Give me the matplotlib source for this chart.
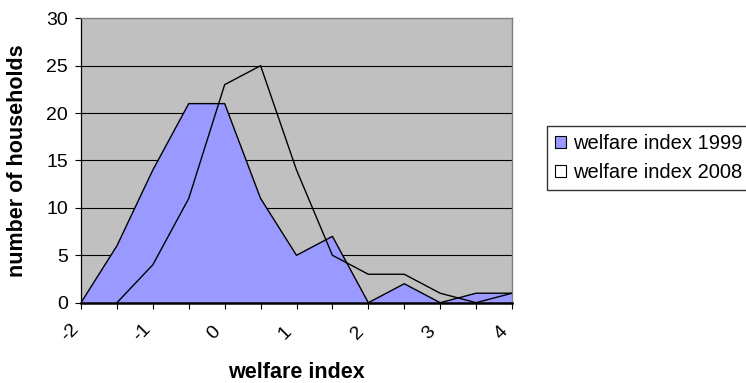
import numpy as np
import matplotlib
matplotlib.use("Agg")
import matplotlib.pyplot as plt
from matplotlib.patches import Patch
from matplotlib.transforms import ScaledTranslation

plt.rcParams['font.family'] = ['Liberation Sans', 'DejaVu Sans']

# Household counts per welfare index class
welfare_index = [-2, -1.5, -1, -0.5, 0, 0.5, 1, 1.5, 2, 2.5, 3, 3.5, 4]
households_1999 = [0, 6, 14, 21, 21, 11, 5, 7, 0, 2, 0, 1, 1]
households_2008 = [np.nan, 0, 4, 11, 23, 25, 14, 5, 3, 3, 1, 0, 1]
x_tick_labels = ['-2', '', '-1', '', '0', '', '1', '', '2', '', '3', '', '4']
y_ticks = [0, 5, 10, 15, 20, 25, 30]
series_names = ['welfare index 1999', 'welfare index 2008']

W, H = 746, 383
fig = plt.figure(figsize=(W / 100, H / 100), dpi=100)
ax = fig.add_axes([81 / W, 1 - 302.7 / H, (512 - 81) / W, (302.7 - 18.3) / H])
ax.set_facecolor('#C0C0C0')

x = np.array(welfare_index, dtype=float)
y99 = np.array(households_1999, dtype=float)
y08 = np.array(households_2008, dtype=float)

# horizontal gridlines behind the areas
for v in y_ticks[1:-1]:
    ax.axhline(v, color='black', lw=0.8, zorder=1)

ax.fill_between(x, 0, y99, facecolor='#9999FF', edgecolor='none', zorder=2)
ax.plot(x, y99, color='black', lw=1.0, zorder=3)
ax.plot(x, y08, color='black', lw=1.0, zorder=4)

ax.set_xlim(-2, 4)
ax.set_ylim(0, 30)
ax.set_xticks(welfare_index)
ax.set_xticklabels(x_tick_labels)
ax.set_yticks(y_ticks)

for side in ('top', 'right'):
    ax.spines[side].set_color('#808080')
    ax.spines[side].set_linewidth(1.0)
ax.spines['left'].set_color('black')
ax.spines['left'].set_linewidth(0.9)
ax.spines['bottom'].set_color('black')
ax.spines['bottom'].set_linewidth(1.8)
ax.spines['bottom'].set_zorder(5)

ax.tick_params(axis='y', direction='out', length=4.5, width=0.8, pad=5, labelsize=14)
ax.tick_params(axis='x', direction='out', length=4.5, width=0.8, pad=17, labelsize=14)

for lab in ax.get_xticklabels():
    lab.set_rotation(45)
    lab.set_rotation_mode('anchor')
    lab.set_ha('center')
    lab.set_va('center')
    lab.set_transform(lab.get_transform() + ScaledTranslation(-11 / 100, 0, fig.dpi_scale_trans))

ax.set_xlabel('welfare index', fontsize=15.5, fontweight='bold')
ax.xaxis.set_label_coords(0.5, (302.7 - 372) / 284.4)
ax.xaxis.label.set_va('center')
ax.set_ylabel('number of households', fontsize=15.5, fontweight='bold')
ax.yaxis.set_label_coords((18 - 81) / 431, 0.5)
ax.yaxis.label.set_va('center')

handles = [Patch(facecolor='#9999FF', edgecolor='black', lw=0.8),
           Patch(facecolor='white', edgecolor='black', lw=0.8)]
leg = fig.legend(handles, series_names, loc='upper left',
                 bbox_to_anchor=(547 / W, 1 - 193 / H, 300 / W, 67 / H),
                 bbox_transform=fig.transFigure, mode='expand',
                 borderaxespad=0, fontsize=14.5, frameon=True, fancybox=False,
                 handlelength=0.55, handleheight=0.5, handletextpad=0.33,
                 borderpad=0.4, labelspacing=0.5)
leg.get_frame().set_edgecolor('black')
leg.get_frame().set_linewidth(1.0)

fig.savefig('out.png', dpi=100)
